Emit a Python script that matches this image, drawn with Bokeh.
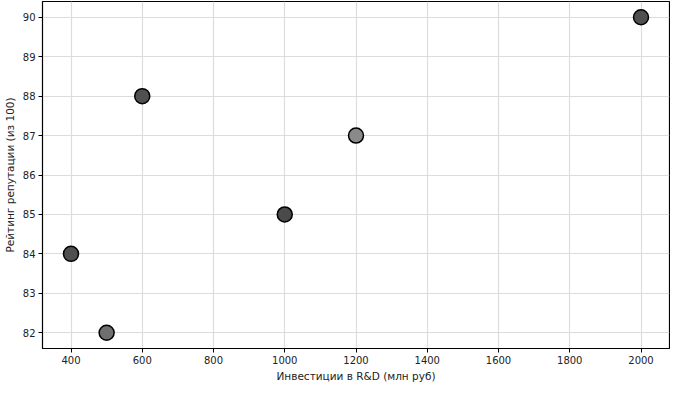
from bokeh.plotting import figure
from bokeh.models import FixedTicker, Range1d, ColumnDataSource
from bokeh.embed import file_html
from bokeh.resources import INLINE

investments = [400, 500, 600, 1000, 1200, 2000]
reputation = [84, 82, 88, 85, 87, 90]
colors = ["#4f4f4f", "#6f6f6f", "#505050", "#4a4a4a", "#8a8a8a", "#4f4f4f"]
x_ticks = [400, 600, 800, 1000, 1200, 1400, 1600, 1800, 2000]
y_ticks = [82, 83, 84, 85, 86, 87, 88, 89, 90]

src = ColumnDataSource(dict(x=investments, y=reputation, c=colors))

p = figure(width=670, height=384, output_backend="svg", toolbar_location=None,
           x_range=Range1d(320, 2080), y_range=Range1d(81.6, 90.4),
           min_border_left=2, min_border_right=1, min_border_top=1, min_border_bottom=0)
p.background_fill_color = "white"
p.border_fill_color = "white"
p.outline_line_color = "black"
p.outline_line_width = 1.2
p.outline_line_alpha = 1

for ax in (p.xaxis[0], p.yaxis[0]):
    ax.major_label_text_font = "DejaVu Sans"
    ax.major_label_text_font_size = "10px"
    ax.major_label_text_color = "#222222"
    ax.axis_label_text_font = "DejaVu Sans"
    ax.axis_label_text_font_size = "10.5px"
    ax.axis_label_text_font_style = "normal"
    ax.axis_label_text_color = "#222222"
    ax.minor_tick_line_color = None
    ax.major_tick_in = 0
    ax.major_tick_out = 4
    ax.axis_line_color = "black"
    ax.major_tick_line_color = "black"
    ax.major_label_standoff = 3

p.xaxis.axis_label_standoff = 3
p.yaxis.axis_label_standoff = 4
p.xaxis.ticker = FixedTicker(ticks=x_ticks)
p.yaxis.ticker = FixedTicker(ticks=y_ticks)
p.xaxis.axis_label = "Инвестиции в R&D (млн руб)"
p.yaxis.axis_label = "Рейтинг репутации (из 100)"

p.grid.grid_line_color = "#dcdcdc"
p.grid.grid_line_width = 1.2

p.scatter("x", "y", source=src, size=15, fill_color="c", line_color="black", line_width=1.5)

open("out.html", "w").write(file_html(p, INLINE))
